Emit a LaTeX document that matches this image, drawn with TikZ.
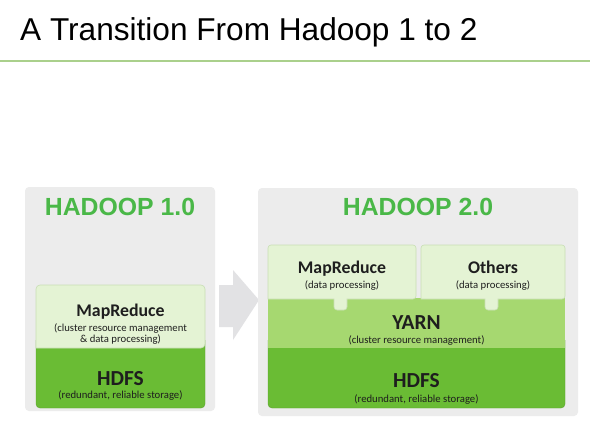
\documentclass[tikz,border=0pt]{standalone}
\usepackage{fontspec}
\setmainfont{Carlito}
\newfontfamily\arialf{Liberation Sans}
\definecolor{linegreen}{RGB}{170,208,140}
\definecolor{panelgray}{RGB}{236,236,236}
\definecolor{arrowgray}{RGB}{226,226,228}
\definecolor{lightg}{RGB}{228,243,212}
\definecolor{lightgb}{RGB}{200,222,180}
\definecolor{yarng}{RGB}{166,216,112}
\definecolor{hdfsg}{RGB}{106,188,52}
\definecolor{titleg}{RGB}{74,184,72}
\definecolor{textd}{RGB}{30,30,30}
\tikzset{
  panel/.style={fill=panelgray, rounded corners=4pt},
  htitle/.style={font=\arialf\bfseries\fontsize{24.8}{26}\selectfont, text=titleg, anchor=base},
  big/.style={font=\bfseries\fontsize{17.8}{19}\selectfont, text=textd, anchor=base, inner sep=0},
  bigger/.style={font=\bfseries\fontsize{21.4}{22}\selectfont, text=textd, anchor=base, inner sep=0},
  small/.style={font=\fontsize{10.7}{12}\selectfont, text=textd, anchor=base, inner sep=0, align=center},
}
\begin{document}
\begin{tikzpicture}[x=1pt,y=-1pt]
\useasboundingbox (0,0) rectangle (590,429);
\fill[white] (0,0) rectangle (590,429);
% title
\node[anchor=base west, inner sep=0, font=\arialf\fontsize{31.6}{33}\selectfont] (title) at (20,40) {A Transition From Hadoop 1 to 2};
\draw[linegreen, line width=2.5pt] (0,61) -- (590,61);
% arrow
\fill[arrowgray] (219,285) -- (233,285) -- (233,270) -- (259,300) -- (233,340) -- (233,327) -- (219,327) -- cycle;
% panels
\fill[panel] (25,187) rectangle (215,411);
\fill[panel] (258,188) rectangle (578,416);
\node[htitle] (h1) at (120,215) {HADOOP 1.0};
\node[htitle] (h2) at (418,215) {HADOOP 2.0};
% Hadoop 1 stack
\filldraw[fill=hdfsg, draw=hdfsg!85!black, line width=0.4pt, rounded corners=4pt] (36,340) -- (36,408) -- (205,408) -- (205,340);
\filldraw[fill=lightg, draw=lightgb, line width=0.6pt, rounded corners=4pt] (36,348) -- (36,285) -- (205,285) -- (205,348) [sharp corners] -- cycle;
\node[big] (mr1) at (120.5,316) {MapReduce};
\node[small] (mr1s) at (120.5,331) {(cluster resource management};
\node[small] (mr1t) at (120.5,342) {\& data processing)};
\node[bigger] (hd1) at (120.5,385) {HDFS};
\node[small] (hd1s) at (120.5,398) {(redundant, reliable storage)};
% Hadoop 2 stack
\filldraw[fill=hdfsg, draw=hdfsg!85!black, line width=0.4pt, rounded corners=4pt] (268,340) -- (268,408) -- (565,408) -- (565,340);
\fill[yarng] (268,298) rectangle (565,348);
\filldraw[fill=lightg, draw=lightgb, line width=0.6pt, rounded corners=3pt] (268,299) -- (268,245) -- (416,245) -- (416,299) [sharp corners] -- (347,299) [rounded corners=3pt] -- (347,310) -- (334,310) [sharp corners] -- (334,299) -- cycle;
\filldraw[fill=lightg, draw=lightgb, line width=0.6pt, rounded corners=3pt] (421,299) -- (421,245) -- (565,245) -- (565,299) [sharp corners] -- (498,299) [rounded corners=3pt] -- (498,310) -- (485,310) [sharp corners] -- (485,299) -- cycle;
\node[big] (mr2) at (342,273) {MapReduce};
\node[small] (mr2s) at (342,288) {(data processing)};
\node[big] (oth) at (493,273) {Others};
\node[small] (oths) at (493,288) {(data processing)};
\node[bigger] (yarn) at (416.5,329) {YARN};
\node[small] (yarns) at (416.5,343) {(cluster resource management)};
\node[bigger] (hd2) at (416.5,387) {HDFS};
\node[small] (hd2s) at (416.5,402) {(redundant, reliable storage)};
\end{tikzpicture}
\end{document}
